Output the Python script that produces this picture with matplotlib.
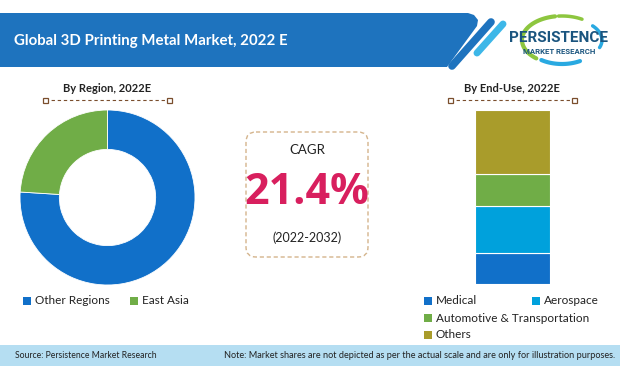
import numpy as np
import matplotlib.pyplot as plt
from matplotlib.patches import Polygon, Rectangle, FancyBboxPatch

# data
region_labels = ['Other Regions', 'East Asia']
region_share = [76, 24]
region_colors = ['#1170C9', '#70AD47']

enduse_labels = ['Medical', 'Aerospace', 'Automotive & Transportation', 'Others']
enduse_share = [18, 27, 18, 37]
enduse_colors = ['#1170C9', '#00A1DC', '#70AD47', '#A99C2B']

title = 'Global 3D Printing Metal Market, 2022 E'
cagr_value = '21.4%'
cagr_period = '(2022-2032)'
source_text = 'Source: Persistence Market Research'
note_text = ('Note: Market shares are not depicted as per the actual scale '
             'and are only for illustration purposes.')

W, H = 620, 366
fig = plt.figure(figsize=(W / 100, H / 100), dpi=100)
fig.patch.set_facecolor('white')


def px_axes(x0, y0, x1, y1):
    # axes from pixel box (y measured from top)
    return fig.add_axes([x0 / W, 1 - y1 / H, (x1 - x0) / W, (y1 - y0) / H])


# overlay in pixel coordinates
bg = fig.add_axes([0, 0, 1, 1])
bg.set_xlim(0, W)
bg.set_ylim(H, 0)
bg.axis('off')

# banner
banner = Polygon([(0, 13), (468, 13), (474, 15), (478, 20), (477, 26),
                  (447, 67), (0, 67)], closed=True, color='#1E73BE', lw=0)
bg.add_patch(banner)
bg.plot([491, 452], [22, 66], color='#1E73BE', lw=5.5, solid_capstyle='round')
bg.plot([503, 477], [24, 53], color='#3DB7E8', lw=5, solid_capstyle='round')
bg.text(14, 41, title, color='white', fontsize=10.8, fontweight='bold',
        family='Lato', va='center', ha='left')

# logo
t = np.linspace(np.radians(100), np.radians(230), 60)
bg.plot(562 + 40 * np.cos(t), 40 - 24 * np.sin(t), color='#8DC63F', lw=3,
        solid_capstyle='round')
t = np.linspace(np.radians(60), np.radians(95), 30)
bg.plot(562 + 40 * np.cos(t), 40 - 24 * np.sin(t), color='#8DC63F', lw=2.5,
        solid_capstyle='round')
t = np.linspace(np.radians(-20), np.radians(40), 30)
bg.plot(562 + 40 * np.cos(t), 40 - 22 * np.sin(t), color='#29A9E1', lw=2.5,
        solid_capstyle='round')
t = np.linspace(np.radians(235), np.radians(300), 30)
bg.plot(562 + 36 * np.cos(t), 42 - 22 * np.sin(t), color='#29A9E1', lw=3,
        solid_capstyle='round')
bg.text(559, 38, 'PERSISTENCE', color='#1B557F', fontsize=11,
        family='Roboto', fontweight='bold', ha='center', va='center')
bg.text(559, 51, 'MARKET RESEARCH', color='#1B557F', fontsize=5.6,
        family='Roboto', fontweight='bold', ha='center', va='center')

# section headers with dashed rules
for cx, x0, x1, label in [(107, 45, 169, 'By Region, 2022E'),
                          (512, 450, 574, 'By End-Use, 2022E')]:
    bg.text(cx, 88, label, fontsize=8, fontweight='bold', family='Lato',
            ha='center', va='center', color='#222222')
    bg.plot([x0, x1], [100, 100], color='#7A4E2D', lw=0.8, ls=(0, (3, 2.5)))
    for xx in (x0, x1):
        bg.add_patch(Rectangle((xx - 2.5, 97.5), 5, 5, fc='white',
                               ec='#7A4E2D', lw=0.9, zorder=3))

# CAGR box
box = FancyBboxPatch((246, 132), 122, 125, boxstyle='round,pad=0,rounding_size=10',
                     fc='white', ec='#D4B48C', lw=1, ls=(0, (3, 2)))
bg.add_patch(box)
bg.text(307, 150, 'CAGR', fontsize=9.5, family='Lato', ha='center',
        va='center', color='#222222')
bg.text(307, 192, cagr_value, fontsize=31, fontweight='bold', family='Open Sans',
        ha='center', va='center', color='#D81F5E')
bg.text(307, 238, cagr_period, fontsize=9, family='Lato', ha='center',
        va='center', color='#222222')

# donut
ax1 = px_axes(20, 110, 195, 285)
ax1.pie(region_share, colors=region_colors, startangle=90, counterclock=False,
        wedgeprops=dict(width=0.45, edgecolor='white', linewidth=0.6))
ax1.set_xlim(-1, 1)
ax1.set_ylim(-1, 1)
ax1.set_aspect('equal')
ax1.axis('off')

# stacked bar
ax2 = px_axes(475, 110, 550, 284)
bottom = 0
for val, col in zip(enduse_share, enduse_colors):
    ax2.bar(0, val, bottom=bottom, width=1, color=col, edgecolor='white',
            linewidth=0.8)
    bottom += val
ax2.set_xlim(-0.5, 0.5)
ax2.set_ylim(0, sum(enduse_share))
ax2.axis('off')

# legends
def legend_item(x, y, color, label):
    bg.add_patch(Rectangle((x - 4, y - 4), 8, 8, color=color, lw=0))
    bg.text(x + 8, y, label, fontsize=8.5, family='Lato', va='center',
            ha='left', color='#222222')


legend_item(27, 301, region_colors[0], region_labels[0])
legend_item(134, 301, region_colors[1], region_labels[1])
legend_item(428, 301, enduse_colors[0], enduse_labels[0])
legend_item(536, 301, enduse_colors[1], enduse_labels[1])
legend_item(428, 318, enduse_colors[2], enduse_labels[2])
legend_item(428, 335, enduse_colors[3], enduse_labels[3])

# footer
bg.add_patch(Rectangle((0, 345), W, H - 345, color='#B5DEF2', lw=0))
bg.text(15, 356, source_text, fontsize=6.2, family='Lato', va='center',
        ha='left', color='#222222')
bg.text(615, 356, note_text, fontsize=6.6, family='Lato', va='center',
        ha='right', color='#222222')

fig.savefig('out.png', dpi=100)
